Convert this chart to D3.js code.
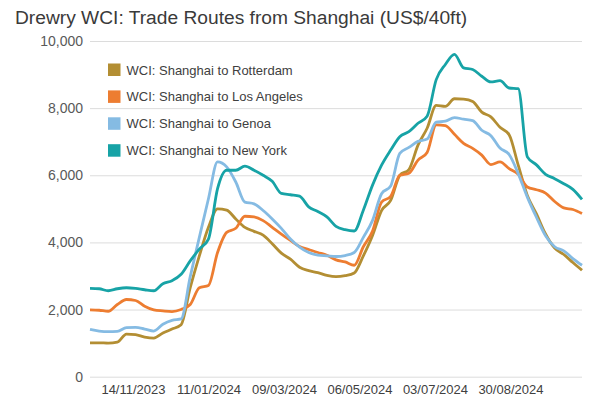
<!DOCTYPE html>
<html>
<head>
<meta charset="utf-8">
<script src="https://cdnjs.cloudflare.com/ajax/libs/d3/7.8.5/d3.min.js"></script>
<style>
body{margin:0;background:#fff;}
text{font-family:"Liberation Sans",Arial,sans-serif;}
</style>
</head>
<body>
<div id="chart"></div>
<script>
var w=600;
var h=400;

var dates=["2023-10-12","2023-10-19","2023-10-26","2023-11-02","2023-11-09","2023-11-16","2023-11-23","2023-11-30","2023-12-07","2023-12-14",
"2023-12-21","2023-12-28","2024-01-04","2024-01-11","2024-01-18","2024-01-25","2024-02-01","2024-02-08","2024-02-15","2024-02-22",
"2024-02-29","2024-03-07","2024-03-14","2024-03-21","2024-03-28","2024-04-04","2024-04-11","2024-04-18","2024-04-25","2024-05-02",
"2024-05-09","2024-05-16","2024-05-23","2024-05-30","2024-06-06","2024-06-13","2024-06-20","2024-06-27","2024-07-04","2024-07-11",
"2024-07-18","2024-07-25","2024-08-01","2024-08-08","2024-08-15","2024-08-22","2024-08-29","2024-09-05","2024-09-12","2024-09-19",
"2024-09-26","2024-10-03","2024-10-10","2024-10-17","2024-10-24"];

var rotterdam=[1010,1010,1000,1030,1270,1250,1180,1150,1300,1420,
1550,2650,3600,4450,5000,4960,4700,4450,4330,4220,
3960,3680,3500,3260,3160,3100,3020,2980,3010,3090,
3600,4200,4950,5250,6000,6170,6900,7400,8080,8050,
8280,8270,8200,7880,7740,7430,7210,6300,5400,4850,
4250,3830,3640,3400,3170];

var losAngeles=[1990,1980,1950,2150,2300,2270,2100,1990,1960,1940,
2000,2150,2650,2720,3700,4300,4420,4780,4760,4650,
4450,4250,4060,3880,3790,3700,3620,3480,3420,3320,
3870,4330,5200,5370,6000,6060,6450,6680,7500,7480,
7220,6950,6800,6600,6320,6400,6200,6030,5650,5570,
5470,5220,5030,4980,4860];

var genoa=[1410,1360,1340,1350,1460,1470,1420,1360,1560,1680,
1720,2980,4150,5300,6400,6250,5800,5200,5150,4950,
4700,4420,4100,3860,3700,3620,3600,3580,3610,3700,
4150,4650,5450,5680,6650,6830,7010,7080,7580,7610,
7720,7670,7630,7340,7180,6810,6620,6050,5350,4750,
4200,3870,3750,3520,3320];

var newYork=[2630,2620,2560,2620,2650,2630,2590,2560,2770,2860,
3050,3450,3800,4100,5600,6150,6150,6270,6150,6000,
5820,5460,5420,5380,5060,4920,4760,4480,4380,4340,
4960,5700,6300,6750,7150,7300,7550,7760,8850,9300,
9600,9200,9150,8950,8780,8820,8600,8580,6550,6310,
6030,5900,5750,5580,5280];

var seriesNames=["WCI: Shanghai to Rotterdam","WCI: Shanghai to Los Angeles","WCI: Shanghai to Genoa","WCI: Shanghai to New York"];
var colors=["#b38e33","#ed7d31","#85bbe3","#17a3a6"];
var yTicks=[0,2000,4000,6000,8000,10000];
var xTickLabels=["2023-11-14","2024-01-11","2024-03-09","2024-05-06","2024-07-03","2024-08-30"];

var parse=d3.timeParse("%Y-%m-%d");
var days=dates.map(parse);
var allSeries=[rotterdam,losAngeles,genoa,newYork];

var svg=d3.select("#chart").append("svg")
          .attr("width",w)
          .attr("height",h);

var x=d3.scaleTime()
        .domain(d3.extent(days))
        .range([90,582]);

var y=d3.scaleLinear()
        .domain([0,10000])
        .range([376.7,41]);

// title
svg.append("text")
   .attr("x",15)
   .attr("y",24)
   .attr("font-size",19.2)
   .attr("fill","#3a3a3a")
   .text("Drewry WCI: Trade Routes from Shanghai (US$/40ft)");

// gridlines + y labels
var yAxis=svg.append("g")
   .attr("transform","translate(90,0)")
   .call(d3.axisLeft(y).tickValues(yTicks).tickSize(-492).tickPadding(7).tickFormat(d3.format(",")));
yAxis.select(".domain").remove();
yAxis.selectAll(".tick line").attr("stroke","#dcdcdc");
yAxis.selectAll(".tick text").attr("font-size",14).attr("fill","#595959").attr("font-family","Liberation Sans, Arial, sans-serif");

// x labels
var xAxis=svg.append("g")
   .attr("transform","translate(0,377)")
   .call(d3.axisBottom(x).tickValues(xTickLabels.map(parse)).tickSize(0).tickPadding(8).tickFormat(d3.timeFormat("%d/%m/%Y")));
xAxis.select(".domain").remove();
xAxis.selectAll(".tick text").attr("font-size",13).attr("fill","#404040").attr("font-family","Liberation Sans, Arial, sans-serif");

var line=d3.line()
           .x(function(d,i){return x(days[i]);})
           .y(function(d){return y(d);})
           .curve(d3.curveMonotoneX);

svg.append("g")
   .selectAll("path")
   .data(allSeries)
   .enter().append("path")
   .attr("d",line)
   .attr("fill","none")
   .attr("stroke",function(d,i){return colors[i];})
   .attr("stroke-width",2.8)
   .attr("stroke-linejoin","round");

// legend
var legend=svg.append("g")
   .selectAll("g")
   .data(seriesNames)
   .enter().append("g")
   .attr("transform",function(d,i){return "translate(108,"+(63.5+i*26.9)+")";});

legend.append("rect")
      .attr("width",12.5)
      .attr("height",12.5)
      .attr("fill",function(d,i){return colors[i];});

legend.append("text")
      .attr("x",18.5)
      .attr("y",11)
      .attr("font-size",13)
      .attr("fill","#404040")
      .text(function(d){return d;});
</script>
</body>
</html>
